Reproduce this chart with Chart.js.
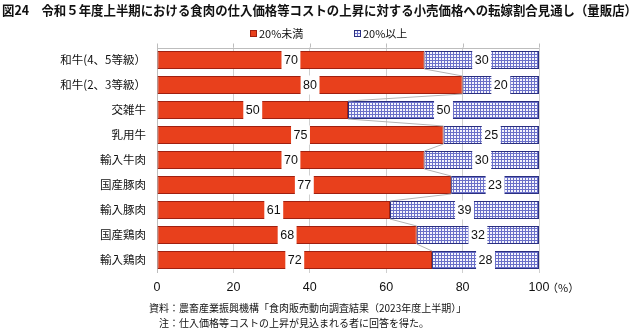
<!DOCTYPE html>
<html>
<head>
<meta charset="utf-8">
<script src="https://cdn.jsdelivr.net/npm/chart.js@4.4.0/dist/chart.umd.min.js"></script>
<style>
  html, body { margin: 0; padding: 0; background: #fff; }
  #wrap { width: 640px; height: 330px; }
</style>
</head>
<body>
<div id="wrap"><canvas id="chart" width="640" height="330"></canvas></div>
<script>
// データ
const categories = ['和牛(4、5等級）', '和牛(2、3等級）', '交雑牛', '乳用牛', '輸入牛肉', '国産豚肉', '輸入豚肉', '国産鶏肉', '輸入鶏肉'];
const under20 = [70, 80, 50, 75, 70, 77, 61, 68, 72];
const over20 = [30, 20, 50, 25, 30, 23, 39, 32, 28];
const seriesNames = ['20%未満', '20%以上'];
const xTicks = [0, 20, 40, 60, 80, 100];

const titleText = '図24　令和５年度上半期における食肉の仕入価格等コストの上昇に対する小売価格への転嫁割合見通し（量販店）';
const note1 = '資料：農畜産業振興機構「食肉販売動向調査結果（2023年度上半期）」';
const note2 = '注：仕入価格等コストの上昇が見込まれる者に回答を得た。';

const JP = '"Noto Sans CJK JP", "Noto Sans", sans-serif';
const NUM = '"Liberation Sans", Arial, sans-serif';

const ctx = document.getElementById('chart').getContext('2d');

// 青の格子模様
function makePattern() {
  const c = document.createElement('canvas');
  c.width = 3; c.height = 3;
  const g = c.getContext('2d');
  g.fillStyle = '#f4f4fc';
  g.fillRect(0, 0, 3, 3);
  g.fillStyle = '#6a70c8';
  g.fillRect(0, 0, 3, 1);
  g.fillRect(0, 0, 1, 3);
  return ctx.createPattern(c, 'repeat');
}
const bluePattern = makePattern();

// 区分線（系列線）
const seriesLines = {
  id: 'seriesLines',
  afterDatasetsDraw(chart) {
    const meta = chart.getDatasetMeta(0);
    const c = chart.ctx;
    c.save();
    c.strokeStyle = '#b4b4b4';
    c.lineWidth = 1;
    for (let i = 0; i < meta.data.length - 1; i++) {
      const a = meta.data[i].getProps(['x', 'y', 'height'], true);
      const b = meta.data[i + 1].getProps(['x', 'y', 'height'], true);
      c.beginPath();
      c.moveTo(a.x, a.y + a.height / 2);
      c.lineTo(b.x, b.y - b.height / 2);
      c.stroke();
    }
    c.restore();
  }
};

// 値ラベル（白い箱）
const valueLabels = {
  id: 'valueLabels',
  afterDatasetsDraw(chart) {
    const c = chart.ctx;
    c.save();
    c.font = '12.5px ' + NUM;
    c.textAlign = 'center';
    c.textBaseline = 'middle';
    chart.data.datasets.forEach((ds, di) => {
      const meta = chart.getDatasetMeta(di);
      meta.data.forEach((bar, i) => {
        const p = bar.getProps(['x', 'y', 'base', 'height'], true);
        const cx = (p.x + p.base) / 2;
        const txt = String(ds.data[i]);
        const w = c.measureText(txt).width + 5;
        c.fillStyle = '#ffffff';
        c.fillRect(cx - w / 2, p.y - p.height / 2 - 0.5, w, p.height + 1);
        c.fillStyle = '#111';
        c.fillText(txt, cx, p.y + 0.5);
      });
    });
    c.restore();
  }
};

// 表題・凡例・注記
const decorations = {
  id: 'decorations',
  afterDraw(chart) {
    const c = chart.ctx;
    const area = chart.chartArea;
    const xs = chart.scales.x;
    c.save();
    // 上の軸線と目盛
    c.strokeStyle = '#bdbdbd';
    c.lineWidth = 1;
    c.beginPath();
    c.moveTo(area.left, Math.round(area.top) + 0.5);
    c.lineTo(area.right, Math.round(area.top) + 0.5);
    xTicks.forEach(t => {
      const px = Math.round(xs.getPixelForValue(t)) + 0.5;
      c.moveTo(px, area.top - 4);
      c.lineTo(px, area.top);
    });
    c.stroke();

    // 表題
    c.fillStyle = '#111';
    c.textBaseline = 'middle';
    c.textAlign = 'left';
    c.font = 'bold 13px ' + JP;
    const tw = c.measureText(titleText).width;
    const maxW = 635;
    c.save();
    c.translate(2, 10);
    c.scale(Math.min(1, maxW / tw), 1);
    c.fillText(titleText, 0, 0);
    c.restore();

    // 凡例
    const legendItems = [
      { x: 250, fill: '#e8401c', stroke: '#a02010', label: seriesNames[0] },
      { x: 354, fill: bluePattern, stroke: '#2a2f80', label: seriesNames[1] }
    ];
    c.font = '11px ' + JP;
    legendItems.forEach(it => {
      c.fillStyle = it.fill;
      c.fillRect(it.x, 30, 6, 6);
      c.strokeStyle = it.stroke;
      c.strokeRect(it.x + 0.5, 30.5, 6, 6);
      c.fillStyle = '#111';
      c.fillText(it.label, it.x + 9, 33.5);
    });

    // （%）
    c.font = '11px ' + JP;
    c.fillText('（%）', xs.getPixelForValue(100) + 8, 288);

    // 注記
    c.font = '10px ' + JP;
    c.fillText(note1, 149, 308);
    c.fillText(note2, 159, 323);
    c.restore();
  }
};

new Chart(ctx, {
  type: 'bar',
  data: {
    labels: categories,
    datasets: [
      {
        label: seriesNames[0],
        data: under20,
        backgroundColor: '#e8401c',
        borderColor: '#a02010',
        borderWidth: 1,
        borderSkipped: false
      },
      {
        label: seriesNames[1],
        data: over20,
        backgroundColor: bluePattern,
        borderColor: '#2a2f80',
        borderWidth: 1,
        borderSkipped: false
      }
    ]
  },
  options: {
    indexAxis: 'y',
    responsive: false,
    animation: false,
    barPercentage: 0.72,
    categoryPercentage: 1,
    layout: { padding: { left: 0, top: 47.5, right: 101, bottom: 37.5 } },
    plugins: {
      legend: { display: false },
      tooltip: { enabled: false }
    },
    scales: {
      x: {
        stacked: true,
        min: 0,
        max: 100,
        afterBuildTicks: s => { s.ticks = xTicks.map(v => ({ value: v })); },
        afterFit: s => { s.height = 20; },
        grid: { color: '#cfcfcf', drawTicks: false },
        border: { display: false },
        ticks: {
          padding: 8,
          color: '#111',
          font: { family: NUM, size: 12.5 },
          maxRotation: 0
        }
      },
      y: {
        stacked: true,
        afterFit: s => { s.width = 157; },
        grid: { display: false, drawTicks: false },
        border: { display: true, color: '#bdbdbd' },
        ticks: {
          padding: 11,
          color: '#111',
          font: { family: JP, size: 11.5 }
        }
      }
    }
  },
  plugins: [seriesLines, valueLabels, decorations]
});
</script>
</body>
</html>
